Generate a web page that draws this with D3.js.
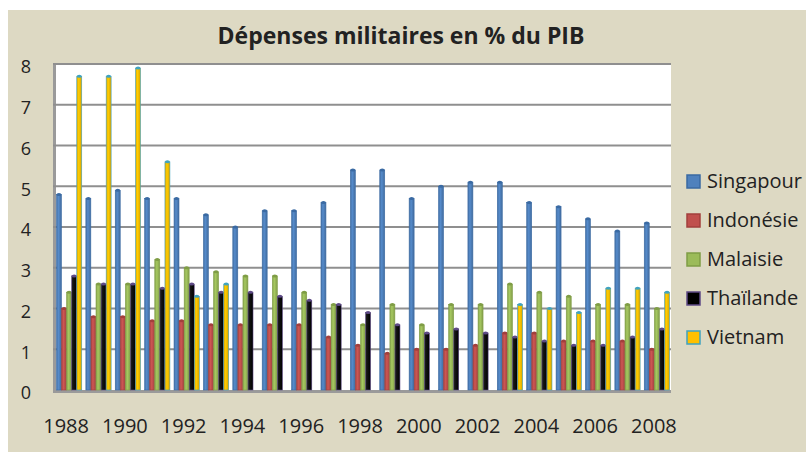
<!DOCTYPE html>
<html lang="fr">
<head>
<meta charset="utf-8">
<title>Dépenses militaires en % du PIB</title>
<script src="https://d3js.org/d3.v7.min.js"></script>
<style>
  body { margin: 0; background: #fff; }
  text { font-family: "Open Sans", "DejaVu Sans", sans-serif; fill: #222; }
</style>
</head>
<body>
<svg id="chart" width="806" height="452"></svg>
<script>
var years = d3.range(1988, 2009);
var seriesNames = ["Singapour", "Indonésie", "Malaisie", "Thaïlande", "Vietnam"];
var singapour = [4.8, 4.7, 4.9, 4.7, 4.7, 4.3, 4.0, 4.4, 4.4, 4.6, 5.4, 5.4, 4.7, 5.0, 5.1, 5.1, 4.6, 4.5, 4.2, 3.9, 4.1];
var indonesie = [2.0, 1.8, 1.8, 1.7, 1.7, 1.6, 1.6, 1.6, 1.6, 1.3, 1.1, 0.9, 1.0, 1.0, 1.1, 1.4, 1.4, 1.2, 1.2, 1.2, 1.0];
var malaisie  = [2.4, 2.6, 2.6, 3.2, 3.0, 2.9, 2.8, 2.8, 2.4, 2.1, 1.6, 2.1, 1.6, 2.1, 2.1, 2.6, 2.4, 2.3, 2.1, 2.1, 2.0];
var thailande = [2.8, 2.6, 2.6, 2.5, 2.6, 2.4, 2.4, 2.3, 2.2, 2.1, 1.9, 1.6, 1.4, 1.5, 1.4, 1.3, 1.2, 1.1, 1.1, 1.3, 1.5];
var vietnam   = [7.7, 7.7, 7.9, 5.6, 2.3, 2.6, null, null, null, null, null, null, null, null, null, 2.1, 2.0, 1.9, 2.5, 2.5, 2.4];
var yTicks = [0, 1, 2, 3, 4, 5, 6, 7, 8];
var xTickYears = years.filter(function (y) { return y % 2 === 0; });

(function () {
  var seriesValues = [singapour, indonesie, malaisie, thailande, vietnam];
  var fills = ["#4F81BD", "#C0504D", "#9BBB59", "#000000", "#FFC000"];
  var strokes = ["#3A6AA3", "#A23F3C", "#7F9D45", "#5E4A86", "#3FA3C0"];

  var svg = d3.select("#chart");
  var left = 56, right = 671, plotTop = 64, bottom = 390;

  // background
  svg.append("rect").attr("x", 8).attr("y", 10).attr("width", 798).attr("height", 442).attr("fill", "#DDD9C3");

  var defs = svg.append("defs");
  fills.forEach(function (c, i) {
    var g = defs.append("linearGradient").attr("id", "cyl" + i).attr("x1", 0).attr("x2", 1).attr("y1", 0).attr("y2", 0);
    var base = d3.color(c);
    g.append("stop").attr("offset", "0%").attr("stop-color", i === 3 ? "#222" : base.darker(0.4));
    g.append("stop").attr("offset", "40%").attr("stop-color", i === 3 ? "#111" : base.brighter(0.2));
    g.append("stop").attr("offset", "100%").attr("stop-color", i === 3 ? "#000" : base.darker(0.5));
  });

  var y = d3.scaleLinear().domain([0, 8]).range([bottom, plotTop]);
  var x = d3.scaleBand().domain(years).range([left - 1, right]).paddingInner(0.14).paddingOuter(0.05);
  var xs = d3.scaleBand().domain(d3.range(5)).range([0, x.bandwidth()]).paddingInner(0.02);

  // walls
  svg.append("rect").attr("x", left).attr("y", plotTop).attr("width", right - left).attr("height", bottom - plotTop).attr("fill", "#fff");
  svg.append("rect").attr("x", left - 3).attr("y", plotTop).attr("width", 3).attr("height", bottom - plotTop + 3).attr("fill", "#9a9a9a");
  svg.append("rect").attr("x", left - 3).attr("y", bottom).attr("width", right - left + 3).attr("height", 3).attr("fill", "#9a9a9a");

  // grid
  svg.append("g").selectAll("line").data(yTicks.slice(1)).join("line")
    .attr("x1", left - 3).attr("x2", right)
    .attr("y1", function (d) { return y(d); }).attr("y2", function (d) { return y(d); })
    .attr("stroke", "#8f8f8f").attr("stroke-width", 2);

  // y labels
  var yAxis = svg.append("g").attr("transform", "translate(26,3)")
    .call(d3.axisLeft(y).tickValues(yTicks).tickSize(0).tickPadding(0));
  yAxis.select(".domain").remove();
  yAxis.selectAll("text").attr("text-anchor", "middle").style("font-size", "18px").style("font-family", "'Open Sans', sans-serif").attr("fill", "#222");

  // x labels
  var xAxis = svg.append("g").attr("transform", "translate(-3," + (bottom + 23) + ")")
    .call(d3.axisBottom(x).tickValues(xTickYears).tickSize(0).tickPadding(6));
  xAxis.select(".domain").remove();
  xAxis.selectAll("text").style("font-size", "20px").style("font-family", "'Open Sans', sans-serif").attr("fill", "#222");

  // bars
  var groups = svg.append("g").selectAll("g").data(years).join("g")
    .attr("transform", function (d) { return "translate(" + x(d) + ",0)"; });

  seriesValues.forEach(function (vals, si) {
    var bw = xs.bandwidth();
    groups.each(function (yr, yi) {
      var v = vals[yi];
      if (v == null) return;
      var g = d3.select(this);
      g.append("rect").attr("x", xs(si)).attr("y", y(v)).attr("width", bw).attr("height", bottom - y(v))
        .attr("fill", "url(#cyl" + si + ")").attr("stroke", strokes[si]).attr("stroke-width", 0.6);
      g.append("ellipse").attr("cx", xs(si) + bw / 2).attr("cy", y(v)).attr("rx", bw / 2).attr("ry", 1.5)
        .attr("fill", strokes[si]);
    });
  });

  // title
  svg.append("text").attr("x", 401).attr("y", 44).attr("text-anchor", "middle")
    .style("font-size", "23px").style("font-weight", "bold").text("Dépenses militaires en % du PIB");

  // legend
  var legend = svg.append("g").selectAll("g").data(seriesNames).join("g")
    .attr("transform", function (d, i) { return "translate(687," + (175 + i * 39) + ")"; });
  legend.append("rect").attr("width", 13).attr("height", 13)
    .attr("fill", function (d, i) { return fills[i]; })
    .attr("stroke", function (d, i) { return strokes[i]; }).attr("stroke-width", 1.5);
  legend.append("text").attr("x", 20).attr("y", 13).style("font-size", "20px").attr("fill", "#333").text(function (d) { return d; });
})();
</script>
</body>
</html>
